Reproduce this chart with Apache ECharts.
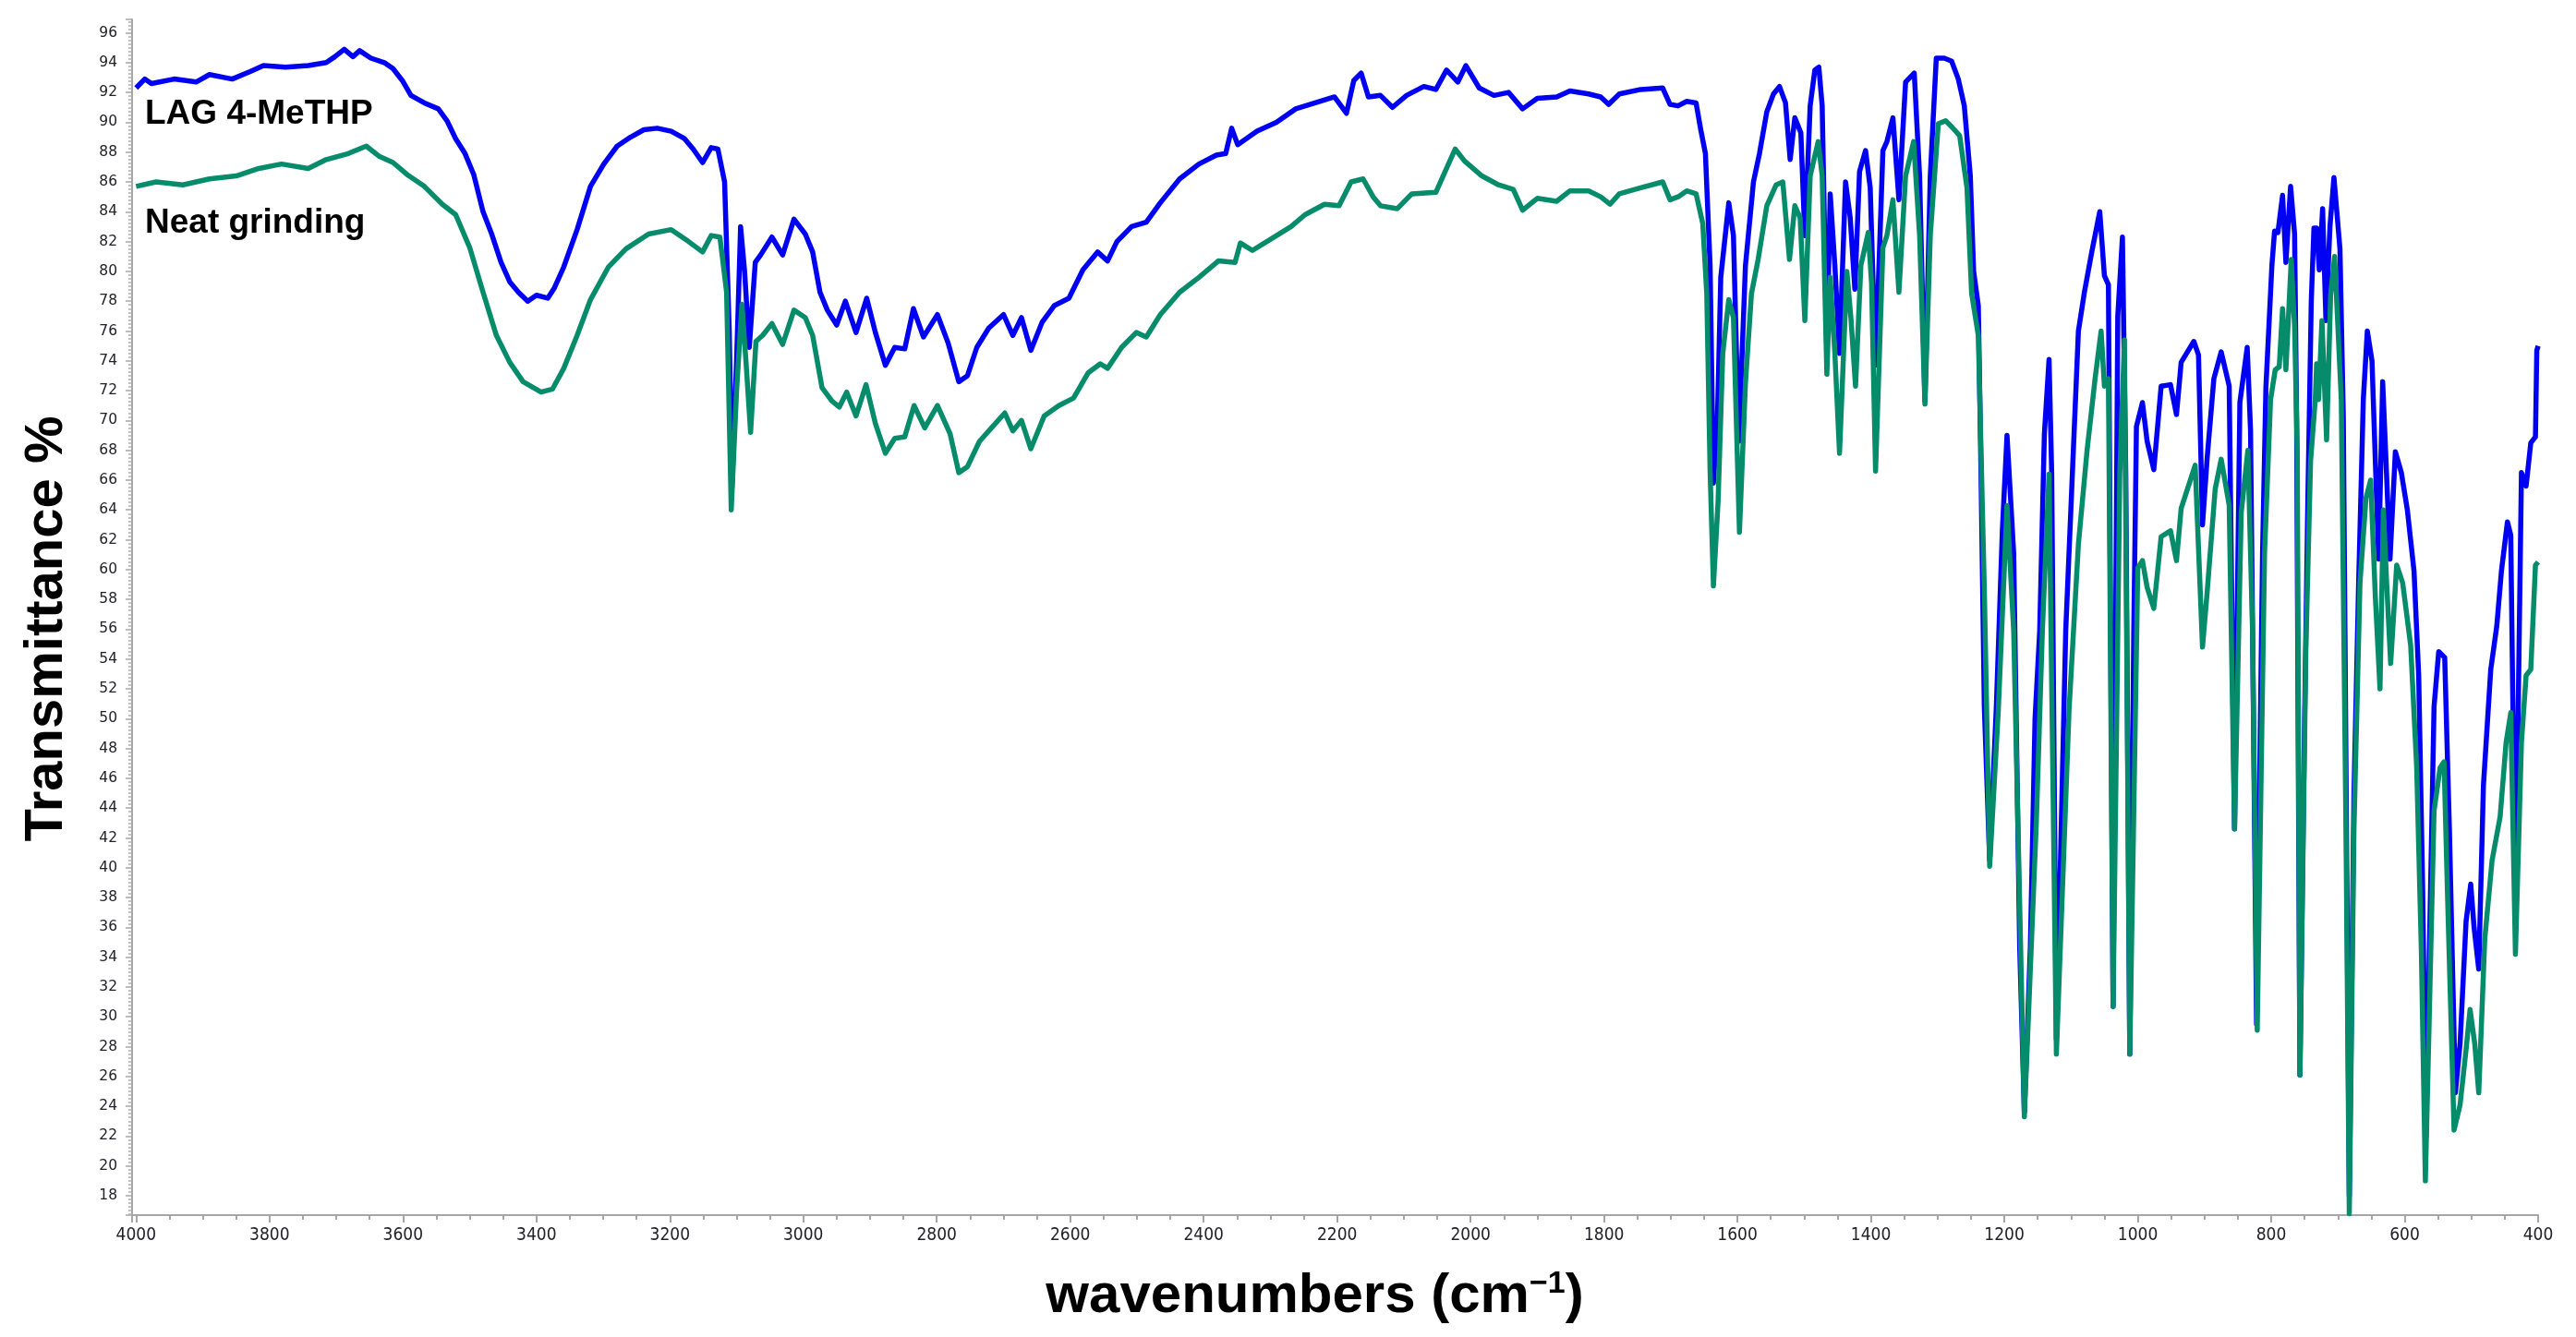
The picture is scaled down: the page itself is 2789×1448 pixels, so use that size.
<!DOCTYPE html>
<html>
<head>
<meta charset="utf-8">
<title>IR spectra</title>
<script src="https://cdn.jsdelivr.net/npm/echarts/dist/echarts.min.js"></script>
<style>
  html, body { margin: 0; padding: 0; background: #ffffff; }
  #chart { width: 2789px; height: 1448px; }
</style>
</head>
<body>
<div id="chart"></div>
<script>
// LAG 4-MeTHP (blue) - wavenumber / transmittance pairs
var lagWavenumbers = [4000, 3987, 3977, 3943, 3910, 3890, 3856, 3829, 3809, 3776, 3742, 3715, 3702, 3688, 3675, 3665, 3648, 3628, 3615, 3601,
  3588, 3568, 3547, 3534, 3521, 3507, 3494, 3480, 3467, 3453, 3440, 3427, 3413, 3400, 3383, 3373, 3359, 3339, 3319, 3299,
  3279, 3259, 3239, 3219, 3198, 3178, 3165, 3151, 3138, 3128, 3118, 3111, 3107, 3100, 3094, 3088, 3081, 3072, 3064, 3047,
  3031, 3014, 2997, 2986, 2975, 2964, 2950, 2937, 2921, 2905, 2892, 2877, 2863, 2848, 2835, 2820, 2799, 2783, 2767, 2754,
  2740, 2722, 2700, 2686, 2673, 2659, 2642, 2624, 2602, 2581, 2559, 2544, 2530, 2508, 2486, 2465, 2436, 2407, 2381, 2367,
  2358, 2349, 2320, 2291, 2262, 2233, 2204, 2186, 2175, 2164, 2153, 2135, 2117, 2096, 2070, 2052, 2036, 2019, 2007, 1987,
  1965, 1943, 1922, 1900, 1871, 1851, 1823, 1805, 1793, 1777, 1745, 1712, 1701, 1689, 1676, 1662, 1655, 1648, 1641, 1636,
  1630, 1625, 1613, 1606, 1598, 1588, 1576, 1567, 1556, 1546, 1537, 1528, 1521, 1514, 1505, 1499, 1491, 1484, 1478, 1473,
  1466, 1461, 1454, 1447, 1438, 1431, 1424, 1417, 1408, 1401, 1393, 1382, 1376, 1367, 1358, 1348, 1335, 1327, 1319, 1311,
  1302, 1290, 1279, 1269, 1260, 1251, 1246, 1239, 1235, 1230, 1222, 1212, 1203, 1196, 1186, 1177, 1170, 1161, 1154, 1147,
  1140, 1133, 1129, 1122, 1108, 1099, 1089, 1080, 1069, 1057, 1050, 1044, 1037, 1030, 1023, 1018, 1012, 1006, 1002, 993,
  986, 976, 965, 951, 942, 935, 916, 909, 903, 896, 886, 875, 863, 855, 847, 836, 831, 822, 813, 808,
  799, 795, 790, 783, 778, 771, 765, 762, 757, 750, 745, 740, 736, 732, 728, 723, 718, 712, 706, 697,
  692, 683, 676, 669, 662, 656, 649, 644, 639, 633, 628, 622, 614, 605, 596, 586, 579, 573, 568, 563,
  556, 549, 540, 533, 524, 517, 508, 501, 496, 489, 482, 471, 462, 455, 446, 441, 434, 425, 418, 411,
  404, 402, 400];
var lagTransmittance = [92.3, 92.9, 92.6, 92.9, 92.7, 93.2, 92.9, 93.4, 93.8, 93.7, 93.8, 94.0, 94.4, 94.9, 94.4, 94.8, 94.3, 94.0, 93.6, 92.8,
  91.8, 91.3, 90.9, 90.1, 88.9, 87.9, 86.5, 84.0, 82.5, 80.6, 79.3, 78.6, 78.0, 78.4, 78.2, 78.9, 80.3, 82.8, 85.7, 87.2,
  88.4, 89.0, 89.5, 89.6, 89.4, 88.9, 88.2, 87.3, 88.3, 88.2, 86.0, 76.0, 65.5, 74.0, 83.0, 80.0, 74.9, 80.6, 81.1, 82.3,
  81.1, 83.5, 82.5, 81.3, 78.6, 77.4, 76.4, 78.0, 75.9, 78.2, 75.9, 73.7, 74.9, 74.8, 77.5, 75.6, 77.1, 75.2, 72.6, 73.0,
  74.9, 76.2, 77.1, 75.7, 76.9, 74.7, 76.6, 77.7, 78.2, 80.1, 81.3, 80.7, 82.0, 83.0, 83.3, 84.6, 86.2, 87.2, 87.8, 87.9,
  89.6, 88.5, 89.4, 90.0, 90.9, 91.3, 91.7, 90.6, 92.8, 93.3, 91.7, 91.8, 91.0, 91.8, 92.4, 92.2, 93.5, 92.7, 93.8, 92.3,
  91.8, 92.0, 90.9, 91.6, 91.7, 92.1, 91.9, 91.7, 91.2, 91.9, 92.2, 92.3, 91.2, 91.1, 91.4, 91.3, 89.5, 87.9, 80.4, 65.8,
  70.0, 79.6, 84.6, 82.4, 68.6, 80.4, 86.0, 87.9, 90.7, 91.9, 92.4, 91.3, 87.5, 90.3, 89.3, 82.4, 91.1, 93.5, 93.7, 91.1,
  74.5, 85.2, 80.4, 74.5, 86.0, 83.6, 78.8, 86.7, 88.1, 85.6, 73.7, 88.1, 88.7, 90.3, 84.8, 92.7, 93.3, 86.4, 71.3, 86.4,
  94.3, 94.3, 94.1, 92.9, 91.1, 86.4, 80.0, 77.7, 66.6, 50.8, 40.5, 50.8, 62.6, 69.0, 61.1, 34.7, 23.6, 34.7, 50.0, 55.9,
  69.1, 74.1, 66.4, 28.5, 55.9, 65.4, 76.0, 78.6, 81.3, 84.0, 79.7, 79.1, 30.7, 77.0, 82.3, 66.4, 27.5, 55.9, 69.6, 71.2,
  68.6, 66.7, 72.3, 72.4, 70.4, 73.9, 75.3, 74.4, 63.0, 67.5, 72.8, 74.6, 72.3, 42.6, 71.2, 74.9, 69.3, 29.5, 61.1, 72.2,
  80.4, 82.7, 82.6, 85.1, 80.6, 85.7, 82.5, 70.3, 26.1, 50.0, 65.0, 78.0, 82.9, 82.9, 80.1, 84.2, 76.7, 83.0, 86.3, 81.5,
  70.3, 18.0, 45.0, 59.1, 71.4, 76.0, 74.0, 67.3, 60.7, 72.6, 67.3, 60.7, 67.9, 66.5, 64.0, 59.9, 52.9, 38.5, 22.0, 34.4,
  50.8, 54.5, 54.1, 42.6, 24.9, 28.2, 36.4, 38.9, 36.0, 33.2, 45.5, 53.3, 56.2, 59.9, 63.2, 62.3, 37.0, 66.5, 65.6, 68.5,
  68.9, 74.7, 75.0];

// Neat grinding (green)
var neatWavenumbers = [4000, 3970, 3930, 3890, 3850, 3816, 3782, 3742, 3715, 3682, 3655, 3635, 3615, 3594, 3568, 3541, 3521, 3500, 3480, 3460,
  3440, 3420, 3393, 3376, 3359, 3339, 3319, 3292, 3266, 3232, 3198, 3172, 3151, 3138, 3125, 3115, 3108, 3100, 3092, 3086,
  3079, 3071, 3061, 3047, 3031, 3014, 2997, 2986, 2972, 2957, 2946, 2935, 2921, 2906, 2892, 2877, 2863, 2848, 2834, 2818,
  2799, 2780, 2767, 2754, 2736, 2718, 2698, 2686, 2673, 2659, 2639, 2617, 2595, 2573, 2555, 2544, 2523, 2501, 2486, 2465,
  2436, 2407, 2378, 2353, 2345, 2327, 2298, 2269, 2248, 2219, 2197, 2179, 2161, 2146, 2135, 2110, 2088, 2052, 2038, 2023,
  2009, 1983, 1958, 1936, 1922, 1900, 1871, 1851, 1823, 1805, 1791, 1777, 1745, 1712, 1701, 1689, 1676, 1662, 1652, 1646,
  1641, 1636, 1629, 1622, 1613, 1606, 1597, 1588, 1579, 1569, 1556, 1542, 1532, 1522, 1514, 1506, 1499, 1491, 1479, 1473,
  1466, 1461, 1454, 1447, 1436, 1430, 1423, 1415, 1404, 1399, 1393, 1382, 1376, 1367, 1358, 1348, 1336, 1327, 1319, 1311,
  1299, 1288, 1279, 1267, 1256, 1249, 1239, 1230, 1222, 1209, 1196, 1186, 1170, 1152, 1143, 1133, 1122, 1103, 1089, 1076,
  1064, 1055, 1050, 1044, 1037, 1027, 1020, 1012, 1000, 993, 986, 976, 965, 951, 942, 935, 914, 903, 896, 884,
  875, 863, 855, 845, 835, 828, 821, 810, 801, 794, 788, 783, 778, 770, 765, 761, 757, 748, 741, 734,
  732, 729, 724, 717, 711, 705, 695, 688, 683, 676, 667, 658, 651, 644, 637, 632, 627, 621, 612, 603,
  591, 582, 575, 569, 563, 556, 547, 541, 536, 526, 517, 508, 502, 495, 489, 480, 469, 457, 448, 441,
  434, 425, 418, 411, 404, 400];
var neatTransmittance = [85.7, 86.0, 85.8, 86.2, 86.4, 86.9, 87.2, 86.9, 87.5, 87.9, 88.4, 87.7, 87.3, 86.5, 85.7, 84.5, 83.8, 81.6, 78.6, 75.7,
  73.9, 72.6, 71.9, 72.1, 73.5, 75.7, 78.1, 80.3, 81.5, 82.5, 82.8, 82.0, 81.3, 82.4, 82.3, 78.6, 64.0, 72.0, 77.8, 74.0,
  69.2, 75.3, 75.7, 76.5, 75.1, 77.4, 76.9, 75.7, 72.2, 71.3, 70.9, 71.9, 70.3, 72.4, 69.8, 67.8, 68.8, 68.9, 71.0, 69.5,
  71.0, 69.1, 66.5, 66.9, 68.6, 69.5, 70.5, 69.3, 70.0, 68.1, 70.3, 71.0, 71.5, 73.2, 73.8, 73.5, 74.9, 75.9, 75.6, 77.1,
  78.6, 79.6, 80.7, 80.6, 81.9, 81.4, 82.2, 83.0, 83.8, 84.5, 84.4, 86.0, 86.2, 85.0, 84.4, 84.2, 85.2, 85.3, 86.7, 88.2,
  87.4, 86.4, 85.8, 85.5, 84.1, 84.9, 84.7, 85.4, 85.4, 85.0, 84.5, 85.2, 85.6, 86.0, 84.8, 85.0, 85.4, 85.2, 83.2, 78.5,
  66.6, 58.9, 64.6, 74.5, 78.1, 76.9, 62.5, 72.5, 78.5, 80.8, 84.4, 85.8, 86.0, 80.8, 84.4, 83.6, 76.7, 86.4, 88.7, 86.4,
  73.1, 79.6, 74.5, 67.8, 80.0, 76.9, 72.3, 80.4, 82.6, 79.2, 66.6, 81.6, 82.4, 84.8, 78.6, 86.4, 88.7, 82.4, 71.1, 82.4,
  89.9, 90.1, 89.7, 89.1, 85.6, 78.5, 75.7, 58.7, 40.1, 50.6, 64.3, 55.9, 23.3, 43.1, 55.9, 66.4, 27.5, 50.6, 61.7, 68.0,
  72.8, 76.0, 72.3, 72.8, 30.7, 66.4, 75.4, 27.5, 60.1, 60.6, 58.8, 57.4, 62.2, 62.6, 60.6, 64.1, 67.0, 54.8, 58.5, 65.4,
  67.4, 64.3, 42.6, 63.8, 68.0, 55.9, 29.1, 61.1, 71.4, 73.4, 73.6, 77.5, 73.4, 80.8, 76.3, 68.0, 26.1, 54.9, 67.3, 71.4,
  73.8, 71.4, 76.7, 68.7, 78.4, 81.0, 71.4, 42.6, 16.8, 42.6, 59.1, 64.8, 66.0, 58.2, 52.0, 64.0, 59.1, 53.7, 60.3, 59.1,
  54.9, 46.7, 34.4, 19.0, 30.3, 43.8, 46.7, 47.1, 38.5, 22.4, 24.1, 27.8, 30.5, 28.2, 24.9, 35.2, 40.5, 43.4, 48.4, 50.4,
  34.2, 48.4, 52.9, 53.3, 60.3, 60.5];

var seriesNames = ['LAG 4-MeTHP', 'Neat grinding'];
var seriesColors = ['#0000f2', '#078c6b'];

function pairs(xs, ys) {
  return xs.map(function (x, i) { return [x, ys[i]]; });
}

var chart = echarts.init(document.getElementById('chart'));

var option = {
  backgroundColor: '#ffffff',
  animation: false,
  grid: { left: 143, right: 41, top: 21, bottom: 132, containLabel: false },
  xAxis: {
    type: 'value',
    inverse: true,
    min: 400,
    max: 4006,
    interval: 200,
    name: 'wavenumbers (cm{sup|\u22121})',
    nameLocation: 'middle',
    nameGap: 58,
    nameTextStyle: {
      fontFamily: 'Liberation Sans',
      fontWeight: 'bold',
      fontSize: 60,
      color: '#000',
      padding: [0, 44, 0, 0],
      rich: {
        sup: { fontFamily: 'Liberation Sans', fontWeight: 'bold', fontSize: 34, color: '#000', verticalAlign: 'top' }
      }
    },
    axisLine: { show: true, lineStyle: { color: '#a6a6a6', width: 2 } },
    axisTick: { show: true, length: 8, lineStyle: { color: '#a6a6a6', width: 2 } },
    minorTick: { show: true, splitNumber: 4, length: 5, lineStyle: { color: '#a6a6a6', width: 2 } },
    splitLine: { show: false },
    axisLabel: {
      margin: 13,
      fontFamily: 'DejaVu Sans Condensed',
      fontSize: 19,
      color: '#222228',
      formatter: function (v) { return v % 200 === 0 ? String(v) : ''; }
    }
  },
  yAxis: {
    type: 'value',
    min: 16.7,
    max: 96.9,
    splitNumber: 40,
    name: 'Transmittance %',
    nameLocation: 'middle',
    nameRotate: 90,
    nameGap: 63,
    nameTextStyle: {
      fontFamily: 'Liberation Sans',
      fontWeight: 'bold',
      fontSize: 58,
      color: '#000',
      padding: [0, 25, 0, 0]
    },
    axisLine: { show: true, lineStyle: { color: '#a6a6a6', width: 2 } },
    axisTick: { show: true, length: 7, lineStyle: { color: '#a6a6a6', width: 1.5 } },
    minorTick: { show: true, splitNumber: 8, length: 4, lineStyle: { color: '#b0b0b0', width: 1.5 } },
    splitLine: { show: false },
    axisLabel: {
      margin: 16,
      fontFamily: 'DejaVu Sans',
      fontSize: 15.5,
      color: '#222228',
      showMinLabel: false,
      showMaxLabel: false,
      formatter: function (v) { return Math.abs(v % 2) < 1e-6 ? String(v) : ''; }
    }
  },
  graphic: [
    { type: 'text', x: 157, y: 124, style: { text: seriesNames[0], font: 'bold 37px "Liberation Sans"', fill: '#000', verticalAlign: 'middle' } },
    { type: 'text', x: 157, y: 242, style: { text: seriesNames[1], font: 'bold 37px "Liberation Sans"', fill: '#000', verticalAlign: 'middle' } }
  ],
  series: [
    {
      name: seriesNames[0],
      type: 'line',
      data: pairs(lagWavenumbers, lagTransmittance),
      showSymbol: false,
      lineStyle: { color: seriesColors[0], width: 5.5, join: 'round' },
      z: 2
    },
    {
      name: seriesNames[1],
      type: 'line',
      data: pairs(neatWavenumbers, neatTransmittance),
      showSymbol: false,
      lineStyle: { color: seriesColors[1], width: 5.5, join: 'round' },
      z: 3
    }
  ]
};

chart.setOption(option);
</script>
</body>
</html>
